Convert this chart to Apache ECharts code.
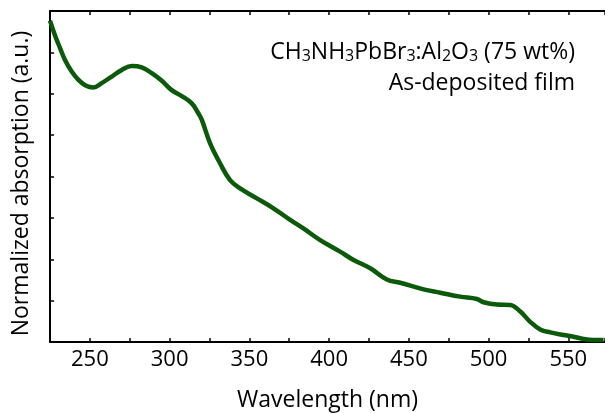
<!DOCTYPE html>
<html>
<head>
<meta charset="utf-8">
<script src="https://cdn.jsdelivr.net/npm/echarts@6/dist/echarts.min.js"></script>
<style>
html, body { margin: 0; padding: 0; background: #fff; }
#chart { width: 605px; height: 413px; }
</style>
</head>
<body>
<div id="chart"></div>
<script>
// wavelength (nm) and normalized absorption
var wavelength = [225, 228.1, 231.3, 234.4, 238.6, 242.8, 247, 252.2, 257.4, 263.7, 270, 276.3, 282.5, 288.8, 295.1, 301.3, 307.6, 313.9, 318, 320.2, 325.4, 331.6, 337.9, 344.2, 354.7, 365.1, 375.6, 383.9, 394.4, 406.9, 415.3, 425.8, 436.2, 444.6, 459.2, 469.7, 482.2, 492.7, 496.8, 505.2, 513.6, 519.9, 526.1, 532.4, 538.7, 547, 553.3, 559.6, 565.9, 572.1];
var absorption = [0.971, 0.927, 0.888, 0.852, 0.817, 0.792, 0.776, 0.769, 0.782, 0.802, 0.822, 0.834, 0.830, 0.812, 0.789, 0.761, 0.743, 0.721, 0.691, 0.671, 0.600, 0.540, 0.489, 0.464, 0.434, 0.404, 0.369, 0.343, 0.308, 0.273, 0.248, 0.223, 0.189, 0.179, 0.159, 0.149, 0.137, 0.130, 0.120, 0.113, 0.112, 0.092, 0.061, 0.038, 0.029, 0.021, 0.016, 0.009, 0.006, 0.006];
var xTicks = [250, 300, 350, 400, 450, 500, 550];

var points = [];
wavelength.forEach(function (w, i) {
    points.push([w, absorption[i]]);
});

var font = 'Open Sans';
var chart = echarts.init(document.getElementById('chart'));

var option = {
    animation: false,
    grid: { left: 50, right: 0, top: 11, bottom: 71, outerBoundsMode: 'none', containLabel: false },
    xAxis: [
        {
            type: 'value',
            min: 225,
            max: 573,
            interval: 25,
            position: 'bottom',
            axisLine: { lineStyle: { color: '#000', width: 2 } },
            axisTick: { inside: true, length: 4, lineStyle: { color: '#000', width: 1.5 } },
            axisLabel: {
                color: '#000', fontFamily: font, fontSize: 22, margin: 7,
                formatter: function (v) { return xTicks.indexOf(v) >= 0 ? String(v) : ''; }
            },
            splitLine: { show: false },
            name: 'Wavelength (nm)',
            nameLocation: 'middle',
            nameGap: 47,
            nameTextStyle: { color: '#000', fontFamily: font, fontSize: 23 }
        },
        {
            type: 'value',
            min: 225,
            max: 573,
            interval: 25,
            position: 'top',
            axisLine: { lineStyle: { color: '#000', width: 2 } },
            axisTick: { inside: true, length: 4, lineStyle: { color: '#000', width: 1.5 } },
            axisLabel: { show: false },
            splitLine: { show: false }
        }
    ],
    yAxis: {
        type: 'value',
        min: 0,
        max: 1,
        interval: 0.125,
        axisLine: { show: true, lineStyle: { color: '#000', width: 2 } },
        axisTick: { show: true, inside: true, length: 4, lineStyle: { color: '#000', width: 1.5 } },
        axisLabel: { show: false },
        splitLine: { show: false },
        name: 'Normalized absorption (a.u.)',
        nameLocation: 'middle',
        nameGap: 17,
        nameTextStyle: { color: '#000', fontFamily: font, fontSize: 23, padding: [0, 14, 0, 0] }
    },
    series: [{
        type: 'line',
        xAxisIndex: 0,
        data: points,
        smooth: 0.4,
        showSymbol: false,
        lineStyle: { color: '#0a5a0a', width: 4.5 }
    }],
    graphic: [
        {
            type: 'text',
            right: 30,
            top: 41,
            style: {
                text: '{n|CH}{s|3}{n|NH}{s|3}{n|PbBr}{s|3}{n|:Al}{s|2}{n|O}{s|3}{n| (75 wt%)}',
                fill: '#000',
                rich: {
                    n: { fontFamily: font, fontSize: 23, fill: '#000', verticalAlign: 'bottom', lineHeight: 26 },
                    s: { fontFamily: font, fontSize: 16, fill: '#000', verticalAlign: 'bottom', lineHeight: 20 }
                }
            }
        },
        {
            type: 'text',
            right: 30,
            top: 72,
            style: {
                text: 'As-deposited film',
                fill: '#000',
                font: '23px "Open Sans"'
            }
        }
    ]
};
chart.setOption(option);
</script>
</body>
</html>
